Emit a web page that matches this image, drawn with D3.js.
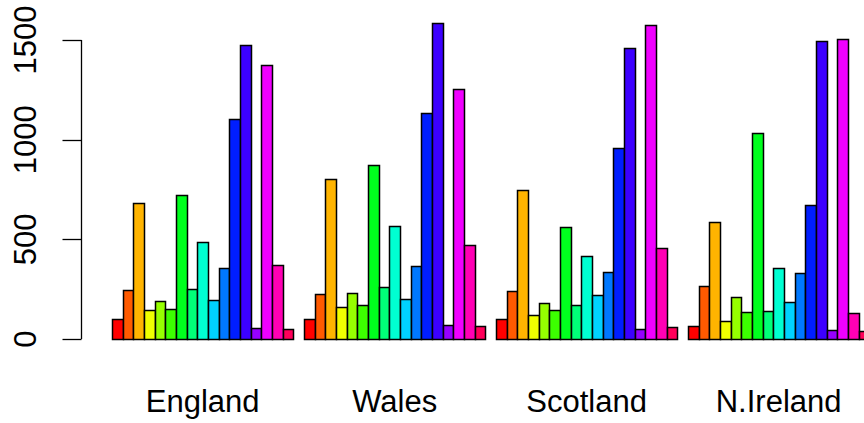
<!DOCTYPE html>
<html>
<head>
<meta charset="utf-8">
<script src="https://cdn.jsdelivr.net/npm/d3@7"></script>
<style>
  body { margin: 0; background: #fff; }
  text { font-family: "Liberation Sans", Arial, sans-serif; }
</style>
</head>
<body>
<script>

var width = 864,
    height = 423;

// values, 17 bars per country
var countries = ["England", "Wales", "Scotland", "N.Ireland"];
var england  = [102, 244, 684, 144, 191, 152, 721, 252, 487, 196, 358, 1102, 1474, 55, 1375, 371, 50];
var wales    = [102, 226, 801, 159, 233, 172, 873, 263, 569, 202, 365, 1136, 1584, 70, 1254, 472, 64];
var scotland = [102, 241, 748, 119, 182, 144, 564, 169, 416, 219, 336, 958, 1462, 50, 1574, 457, 62];
var nireland = [65, 266, 585, 92, 209, 135, 1032, 140, 355, 186, 333, 674, 1494, 45, 1505, 132, 39];
var yTicks = [0, 500, 1000, 1500];

var series = [england, wales, scotland, nireland];
var nBars = england.length;

// R's rainbow(17)
var colors = d3.range(nBars).map(function(i) {
  return d3.hsl(360 * i / nBars, 1, 0.5).toString();
});

// bar units like barplot(beside=TRUE): one space before each group
var x = d3.scaleLinear().domain([1, 72]).range([112, 869.3]);
var y = d3.scaleLinear().domain([0, 1500]).range([339, 40]);

var svg = d3.select("body").append("svg")
    .attr("width", width)
    .attr("height", height);

var bars = [];
series.forEach(function(vals, g) {
  vals.forEach(function(v, j) {
    bars.push({g: g, j: j, v: v, u: g * (nBars + 1) + 1 + j});
  });
});

svg.selectAll("rect.bar")
    .data(bars)
    .enter().append("rect")
    .attr("class", "bar")
    .attr("x", function(d) { return Math.round(x(d.u)) + 0.5; })
    .attr("width", function(d) { return Math.round(x(d.u + 1)) - Math.round(x(d.u)); })
    .attr("y", function(d) { return Math.round(y(d.v)) + 0.5; })
    .attr("height", function(d) { return Math.round(y(0)) - Math.round(y(d.v)); })
    .attr("fill", function(d) { return colors[d.j]; })
    .attr("stroke", "#000")
    .attr("stroke-width", 1.5);

// group labels
svg.selectAll("text.grp")
    .data(countries)
    .enter().append("text")
    .attr("class", "grp")
    .attr("x", function(d, i) { return (x(i * (nBars + 1) + 1) + x(i * (nBars + 1) + 1 + nBars)) / 2; })
    .attr("y", 412)
    .attr("text-anchor", "middle")
    .attr("font-size", 31)
    .text(function(d) { return d; });

// y axis, R style
var ax = svg.append("g").attr("transform", "translate(81.5,0)");
ax.append("line")
    .attr("y1", y(0)).attr("y2", y(1500))
    .attr("stroke", "#000").attr("stroke-width", 1.3);
ax.selectAll("line.tick")
    .data(yTicks)
    .enter().append("line")
    .attr("class", "tick")
    .attr("x1", 0).attr("x2", -19)
    .attr("y1", function(d) { return Math.round(y(d)) + 0.5; })
    .attr("y2", function(d) { return Math.round(y(d)) + 0.5; })
    .attr("stroke", "#000").attr("stroke-width", 1.3);
ax.selectAll("text")
    .data(yTicks)
    .enter().append("text")
    .attr("transform", function(d) { return "translate(-46," + y(d) + ") rotate(-90)"; })
    .attr("text-anchor", "middle")
    .attr("font-size", 31)
    .text(function(d) { return d; });

</script>
</body>
</html>
